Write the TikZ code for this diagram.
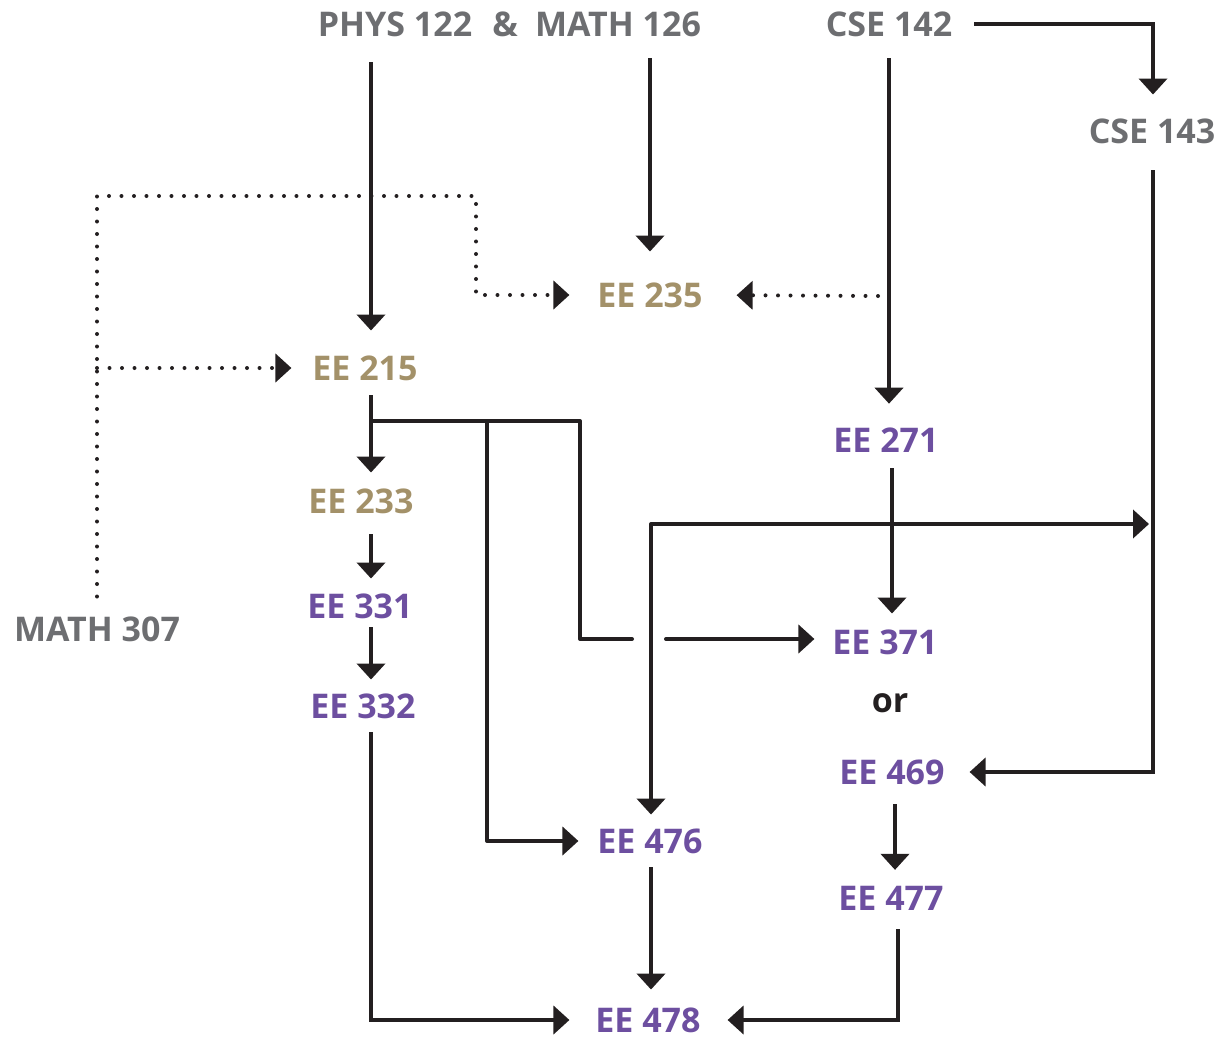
\documentclass[tikz,border=0pt]{standalone}
\usepackage{fontspec}
\setmainfont{Open Sans}
\usetikzlibrary{arrows.meta,calc}
\definecolor{cgray}{HTML}{6D6E71}
\definecolor{cgold}{HTML}{A39169}
\definecolor{cpurp}{HTML}{6D4FA0}
\definecolor{cline}{HTML}{231F20}
\begin{document}
\begin{tikzpicture}[x=1pt,y=-1pt,
  lbl/.style={inner sep=0pt, outer sep=0pt, font=\fontsize{34}{40}\selectfont\bfseries},
  pre/.style={lbl, text=cgray},
  intro/.style={lbl, text=cgold},
  adv/.style={lbl, text=cpurp},
  arr/.style={draw=cline, line width=4pt, -{Triangle[length=16pt,width=28pt]}},
  plain/.style={draw=cline, line width=4pt},
  dotarr/.style={draw=cline, line width=4pt, line cap=round, dash pattern=on 0pt off 12.5pt, -{Triangle[length=16pt,width=28pt]}}
]
\useasboundingbox (0,0) rectangle (1220,1039);
% nodes
\node[pre] (phys) at (395,24) {PHYS 122};
\node[pre] (amp) at (505,24) {\&};
\node[pre] (math126) at (618,24) {MATH 126};
\node[pre] (cse142) at (889,24) {CSE 142};
\node[pre] (cse143) at (1152,131) {CSE 143};
\node[intro] (ee235) at (650,295) {EE 235};
\node[intro] (ee215) at (365,368) {EE 215};
\node[adv] (ee271) at (886,440) {EE 271};
\node[intro] (ee233) at (361,501) {EE 233};
\node[adv] (ee331) at (360,606) {EE 331};
\node[pre] (math307) at (97,629) {MATH 307};
\node[adv] (ee371) at (885,642) {EE 371};
\node[lbl, text=cline] (or) at (890,703) {or};
\node[adv] (ee332) at (363,706) {EE 332};
\node[adv] (ee469) at (892,772) {EE 469};
\node[adv] (ee476) at (650,841) {EE 476};
\node[adv] (ee477) at (891,898) {EE 477};
\node[adv] (ee478) at (648,1020) {EE 478};
% column / row coordinates
\coordinate (xA) at (371,0);
\coordinate (xB) at (487,0);
\coordinate (xC) at (580,0);
\coordinate (xD) at (651,0);
\coordinate (xE) at (889,0);
\coordinate (xF) at (892,0);
\coordinate (xG) at (1153,0);
\coordinate (xH) at (895,0);
\coordinate (xI) at (898,0);
\coordinate (xJ) at (650,0);
\coordinate (b1) at (371,421);
\coordinate (b2) at (580,421);
\coordinate (b3) at (580,639);
\coordinate (g1) at (632,639);
\coordinate (g2) at (666,639);
\coordinate (b4) at (487,421);
\coordinate (h1) at (651,524);
\coordinate (h2) at (1153,524);
\coordinate (d1) at (476,196);
\coordinate (d2) at (878,296);
% solid connectors
\draw[arr, shorten <=26pt, shorten >=25pt] (phys.south -| xA) -- (ee215.north -| xA);
\draw[arr, shorten <=22pt, shorten >=31pt] (math126.south -| xJ) -- (ee235.north -| xJ);
\draw[arr, shorten <=22pt, shorten >=24pt] (cse142.south -| xE) -- (ee271.north -| xE);
\draw[arr, shorten <=22pt, shorten >=24pt] (cse142.east) -| (cse143.north -| xG);
\draw[arr, shorten <=27pt, shorten >=25pt] (cse143.south -| xG) |- (ee469.east);
\draw[arr, shorten <=15pt, shorten >=16pt] (ee215.south -| xA) -- (ee233.north -| xA);
\draw[arr, shorten <=21pt, shorten >=15pt] (ee233.south -| xA) -- (ee331.north -| xA);
\draw[arr, shorten <=9pt, shorten >=14pt] (ee331.south -| xA) -- (ee332.north -| xA);
\draw[arr, shorten <=16pt, shorten >=16pt] (ee271.south -| xF) -- (ee371.north -| xF);
\draw[arr, shorten <=20pt, shorten >=16pt] (ee469.south -| xH) -- (ee477.north -| xH);
\draw[arr, shorten <=14pt, shorten >=18pt] (ee476.south -| xD) -- (ee478.north -| xD);
\draw[arr, shorten <=14pt, shorten >=26pt] (ee332.south -| xA) |- (ee478.west);
\draw[arr, shorten <=19pt, shorten >=27pt] (ee477.south -| xI) |- (ee478.east);
\draw[plain, line cap=round, line join=round] (b1) -- (b2) -- (b3) -- (g1);
\draw[arr, line cap=round, shorten >=18pt] (g2) -- (ee371.west |- g2);
\draw[arr, line join=round, shorten >=19pt] (b4) |- (ee476.west);
\draw[draw=cline, line width=4pt, line join=round, {Triangle[length=16pt,width=28pt]}-{Triangle[length=16pt,width=28pt]}, shorten <=4pt, shorten >=14pt] (h2) -- (h1) -- (ee476.north -| h1);
% dotted connectors
\draw[dotarr, shorten <=20pt, shorten >=28pt] (math307.north) |- (d1) |- (ee235.west);
\draw[dotarr, shorten >=21pt] (math307.north |- ee215.west) -- (ee215.west);
\draw[dotarr, shorten >=34pt] (d2) -- (ee235.east);
\end{tikzpicture}
\end{document}
